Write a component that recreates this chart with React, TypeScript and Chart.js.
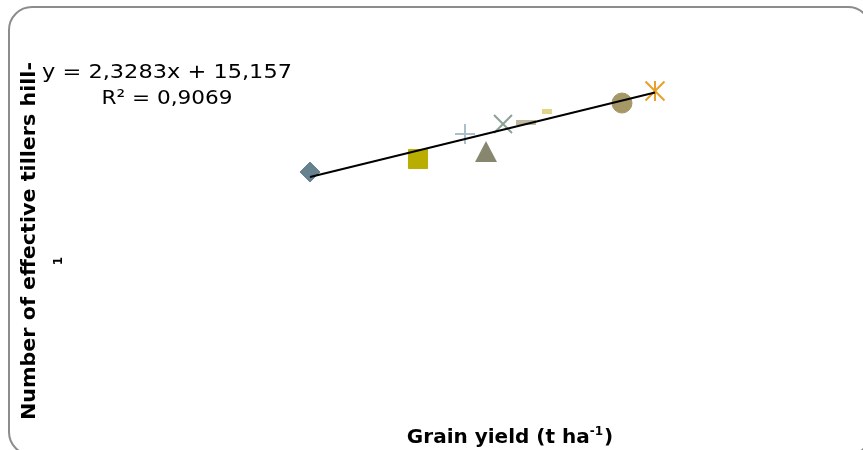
import React, { useEffect, useRef } from 'react';
import { Chart, registerables } from 'chart.js';

Chart.register(...registerables);

// ---- Data ----
const treatmentLabels = ['T1', 'T2', 'T3', 'T4', 'T5', 'T6', 'T7', 'T8', 'T9'];
const grainYield = [2.5, 3.58, 4.05, 4.26, 4.43, 4.66, 4.87, 5.62, 5.95];
const effectiveTillers = [21.45, 22.69, 25.07, 23.4, 26.02, 26.16, 27.21, 28.01, 29.15];

// Linear trendline reported on the chart
const trendSlope = 2.3283;
const trendIntercept = 15.157;
const trendR2 = 0.9069;

// Axis titles
const xAxisTitle = 'Grain yield (t ha';
const xAxisTitleSup = '-1';
const xAxisTitleEnd = ')';
const yAxisTitle = 'Number of effective tillers hill-';
const yAxisTitleLine2 = '1';

// Axis ranges (axes hidden)
const xRange = [0, 8];
const yRange = [0, 35];

// ---- Styling ----
const markerStyles: any[] = [
  { style: 'rectRot', color: '#66828f', radius: 10, border: 1 },
  { style: 'rect', color: '#b8ad00', radius: 13.5, border: 1 },
  { style: 'cross', color: '#a9c0cb', radius: 10, border: 2 },
  { style: 'triangleImg', color: '#878770', radius: 11, border: 0 },
  { style: 'crossRot', color: '#8aa394', radius: 12.7, border: 2 },
  { style: 'line', color: '#bdb8a0', radius: 10, border: 5 },
  { style: 'line', color: '#e2d58a', radius: 5, border: 5 },
  { style: 'circle', color: '#a69766', radius: 10, border: 1 },
  { style: 'crossRot', color: '#e8a02a', radius: 13.4, border: 2 },
];

const FONT = '"DejaVu Sans", "Noto Sans", sans-serif';

const fmt = (v: number) => String(v).replace('.', ',');

function makeTriangle(color: string, w: number, h: number) {
  const c = document.createElement('canvas');
  c.width = w;
  c.height = h;
  const g = c.getContext('2d')!;
  g.fillStyle = color;
  g.beginPath();
  g.moveTo(w / 2, 0);
  g.lineTo(w, h);
  g.lineTo(0, h);
  g.closePath();
  g.fill();
  return c;
}

function fitText(ctx: CanvasRenderingContext2D, text: string, x: number, y: number, width: number) {
  const w = ctx.measureText(text).width;
  const sx = width / w;
  ctx.save();
  ctx.translate(x, y);
  ctx.scale(sx, 1);
  ctx.fillText(text, 0, 0);
  ctx.restore();
}

const decorPlugin = {
  id: 'decor',
  beforeDraw(chart: any) {
    const ctx: CanvasRenderingContext2D = chart.ctx;
    ctx.save();
    ctx.fillStyle = '#ffffff';
    ctx.fillRect(0, 0, chart.width, chart.height);
    ctx.strokeStyle = '#8c8c8c';
    ctx.lineWidth = 2;
    ctx.beginPath();
    (ctx as any).roundRect(9, 7, 862, 448, 23);
    ctx.stroke();
    ctx.restore();
  },
  afterDraw(chart: any) {
    const ctx: CanvasRenderingContext2D = chart.ctx;
    ctx.save();
    ctx.fillStyle = '#000000';
    ctx.textBaseline = 'alphabetic';

    // Trendline equation
    ctx.font = `20px ${FONT}`;
    ctx.textAlign = 'center';
    fitText(ctx, `y = ${fmt(trendSlope)}x + ${fmt(trendIntercept)}`, 167, 78, 250);
    fitText(ctx, `R² = ${fmt(trendR2)}`, 167, 104, 131);

    // X axis title with superscript
    ctx.textAlign = 'left';
    ctx.font = `bold 20px ${FONT}`;
    const wMain = ctx.measureText(xAxisTitle).width;
    ctx.font = `bold 12px ${FONT}`;
    const wSup = ctx.measureText(xAxisTitleSup).width;
    ctx.font = `bold 20px ${FONT}`;
    const wEnd = ctx.measureText(xAxisTitleEnd).width;
    const total = wMain + wSup + 1 + wEnd;
    let x0 = 510 - total / 2;
    ctx.fillText(xAxisTitle, x0, 443);
    x0 += wMain;
    ctx.font = `bold 12px ${FONT}`;
    ctx.fillText(xAxisTitleSup, x0, 435);
    x0 += wSup + 1;
    ctx.font = `bold 20px ${FONT}`;
    ctx.fillText(xAxisTitleEnd, x0, 443);

    // Y axis title (rotated)
    ctx.save();
    ctx.translate(35, 241);
    ctx.rotate(-Math.PI / 2);
    ctx.textAlign = 'center';
    ctx.font = `bold 20px ${FONT}`;
    fitText(ctx, yAxisTitle, 0, 0, 358);
    ctx.restore();

    ctx.save();
    ctx.translate(62, 261);
    ctx.rotate(-Math.PI / 2);
    ctx.textAlign = 'center';
    ctx.font = `bold 12px ${FONT}`;
    ctx.fillText(yAxisTitleLine2, 0, 0);
    ctx.restore();

    ctx.restore();
  },
};

export default function App() {
  const canvasRef = useRef<HTMLCanvasElement | null>(null);

  useEffect(() => {
    if (!canvasRef.current) return;

    const pointSets: any[] = grainYield.map((gx, i) => {
      const m = markerStyles[i];
      const style = m.style === 'triangleImg' ? makeTriangle(m.color, 22, 21) : m.style;
      return {
        type: 'scatter',
        label: treatmentLabels[i],
        data: [{ x: gx, y: effectiveTillers[i] }],
        pointStyle: style,
        pointRadius: m.radius,
        pointBorderWidth: m.border,
        pointBackgroundColor: m.color,
        pointBorderColor: m.color,
        order: 1,
      };
    });

    // vertical stroke of the star marker (same point as the last treatment)
    const last = grainYield.length - 1;
    pointSets.push({
      type: 'scatter',
      label: treatmentLabels[last] + ' star',
      data: [{ x: grainYield[last], y: effectiveTillers[last] }],
      pointStyle: 'line',
      pointRotation: 90,
      pointRadius: 10,
      pointBorderWidth: 2,
      pointBackgroundColor: markerStyles[last].color,
      pointBorderColor: markerStyles[last].color,
      order: 1,
    });

    const xMin = Math.min(...grainYield);
    const xMax = Math.max(...grainYield);
    const trend = {
      type: 'line',
      label: 'Linear trend',
      data: [
        { x: xMin, y: trendSlope * xMin + trendIntercept },
        { x: xMax, y: trendSlope * xMax + trendIntercept },
      ],
      borderColor: '#000000',
      borderWidth: 2,
      pointRadius: 0,
      showLine: true,
      fill: false,
      order: 0,
    };

    const chart = new Chart(canvasRef.current, {
      type: 'scatter',
      data: { datasets: [...pointSets, trend] as any },
      options: {
        responsive: false,
        animation: false,
        layout: { autoPadding: false, padding: { left: 60, right: 3, top: 29.5, bottom: 52.3 } },
        plugins: { legend: { display: false }, tooltip: { enabled: false } },
        scales: {
          x: { type: 'linear', display: false, min: xRange[0], max: xRange[1] },
          y: { type: 'linear', display: false, min: yRange[0], max: yRange[1] },
        },
      },
      plugins: [decorPlugin],
    });

    return () => chart.destroy();
  }, []);

  return (
    <div style={{ position: 'absolute', left: 0, top: 0, width: 863, height: 450 }}>
      <canvas ref={canvasRef} width={863} height={450} style={{ display: 'block' }} />
    </div>
  );
}
